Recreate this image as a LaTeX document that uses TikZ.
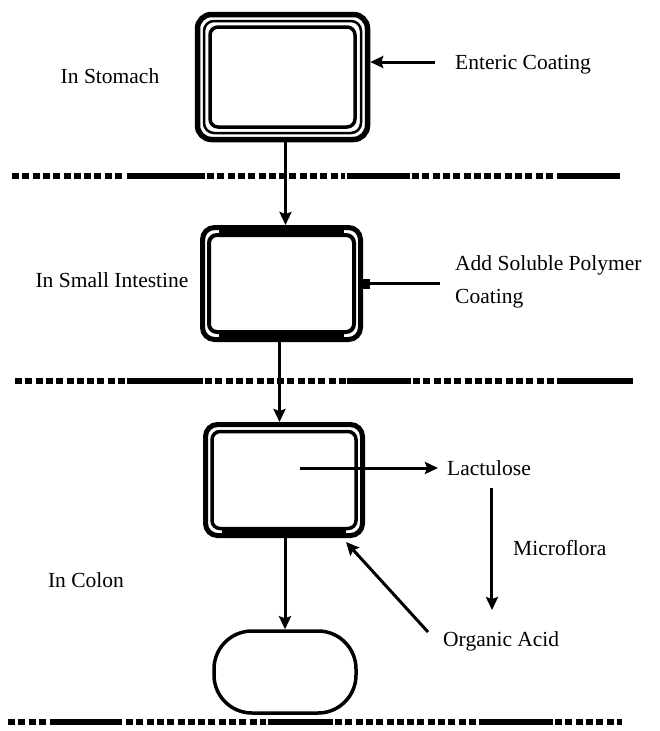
\documentclass[tikz,border=0pt]{standalone}
\usepackage{fontspec}
\setmainfont{Liberation Serif}
\usetikzlibrary{arrows.meta}

\tikzset{
	lbl/.style={inner sep=0pt, font=\fontsize{21.5}{33}\selectfont},
	pill/.style={draw, rounded corners=#1, inner sep=0pt},
	pill/.default=10pt,
	arr/.style={line width=3pt, -{Stealth[length=13pt,width=12pt,inset=2pt]}},
	band/.style={line width=4pt},
	sepdots/.style={line width=5.5pt, dash pattern=on 7pt off 3.3pt},
	sepsolid/.style={line width=5.5pt}
}

\begin{document}
\begin{tikzpicture}[x=1pt,y=-1pt]
	\useasboundingbox (0,0) rectangle (659,731);
	% capsules
	\node[pill=14pt, line width=5.5pt, minimum width=170pt, minimum height=125pt] (stomach) at (282.5,77) {};
	\node[pill=10pt, line width=2.5pt, minimum width=157pt, minimum height=112pt] at (stomach) {};
	\node[pill=8pt, line width=3.5pt, minimum width=145pt, minimum height=100pt] at (stomach) {};
	\node[pill=12pt, line width=5pt, minimum width=158pt, minimum height=112pt] (intestine) at (281.5,283.5) {};
	\node[pill=8pt, line width=4pt, minimum width=145pt, minimum height=97pt] (intestine-in) at (intestine) {};
	\draw[band] ([xshift=12pt,yshift=1.5pt]intestine-in.north west) -- ([xshift=-12pt,yshift=1.5pt]intestine-in.north east);
	\draw[band] ([xshift=12pt,yshift=-1.5pt]intestine-in.south west) -- ([xshift=-12pt,yshift=-1.5pt]intestine-in.south east);
	\node[pill=12pt, line width=5pt, minimum width=157pt, minimum height=111pt] (colon) at (284,480) {};
	\node[pill=8pt, line width=3.5pt, minimum width=144pt, minimum height=97pt] (colon-in) at (colon) {};
	\draw[band] ([xshift=12pt,yshift=-1.4pt]colon-in.south west) -- ([xshift=-12pt,yshift=-1.4pt]colon-in.south east);
	\node[pill=38pt, line width=3.5pt, minimum width=142pt, minimum height=82pt] (pellet) at (285,672) {};

	% labels
	\node[lbl] (instomach) at (110,76) {In Stomach};
	\node[lbl, anchor=west] (enteric) at (455,65) {Enteric Coating};
	\node[lbl] (inintestine) at (112,280) {In Small Intestine};
	\node[lbl, anchor=west, align=left] (polymer) at (455,281.5) {Add Soluble Polymer\\Coating};
	\node[lbl] (incolon) at (86,580) {In Colon};
	\node[lbl, anchor=west] (lactulose) at (447,468) {Lactulose};
	\node[lbl, anchor=west] (microflora) at (513,548) {Microflora};
	\node[lbl, anchor=west] (acid) at (443,641) {Organic Acid};

	% arrows
	\draw[arr] ([xshift=3pt]stomach.south) -- ([xshift=3pt]stomach.south |- intestine.north);
	\draw[arr] ([xshift=-2pt]intestine.south) -- ([xshift=-2pt]intestine.south |- colon.north);
	\draw[arr] (colon.south -| pellet.north) -- (pellet.north);
	\draw[arr] ([xshift=-20pt,yshift=3pt]enteric.west) -- ([yshift=3pt]enteric.west -| stomach.east);
	\draw[line width=3pt, -{Square[length=7pt,width=10pt]}] ([xshift=-15pt]polymer.west |- intestine.east) -- (intestine.east);
	\draw[arr] ([xshift=16pt,yshift=12pt]colon.center) -- ([xshift=-9pt]lactulose.west);
	\draw[arr] ([xshift=3pt,yshift=-12pt]lactulose.south) -- ([xshift=3pt,yshift=21pt]lactulose.south |- acid.north);
	\draw[arr] ([xshift=-15pt,yshift=9pt]acid.west) -- ([xshift=-19pt,yshift=-4pt]colon.south east);

	% boundaries
	\foreach \a/\b/\s in {12/125/sepdots,127/205/sepsolid,207/345/sepdots,347/410/sepsolid,412/555/sepdots,557/620/sepsolid}
		\draw[\s] (\a,176) -- (\b,176);
	\foreach \a/\b/\s in {15/125/sepdots,127/203/sepsolid,205/346/sepdots,347/411/sepsolid,413/555/sepdots,557/633/sepsolid}
		\draw[\s] (\a,381) -- (\b,381);
	\foreach \a/\b/\s in {8/47/sepdots,50/122/sepsolid,126/266/sepdots,268/333/sepsolid,335/477/sepdots,479/553/sepsolid,555/622/sepdots}
		\draw[\s] (\a,722) -- (\b,722);
\end{tikzpicture}
\end{document}
